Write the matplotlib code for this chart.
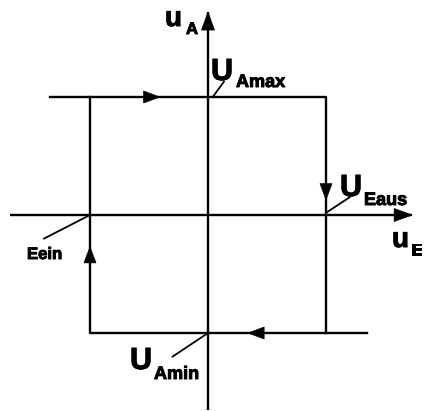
import matplotlib
matplotlib.use('Agg')
import matplotlib.pyplot as plt
import matplotlib.patheffects as pe
from matplotlib.patches import Polygon

# -- Schmitt trigger hysteresis, normalised so that thresholds and output levels are +-1
ue_ein, ue_aus = -1.0, 1.0          # switching thresholds
ua_min, ua_max = -1.0, 1.0          # output levels
ue_left, ue_right = -1.34, 1.35     # how far the output lines run out
ue_axis = [-1.68, 1.73]             # horizontal axis extent
ua_axis = [-1.65, 1.72]             # vertical axis extent

# -- direction arrows on the loop (tip position)
arrow_top_x = -0.41
arrow_right_y = 0.13
arrow_left_y = -0.27
arrow_bottom_x = 0.34

LW = 1.7
K = 'black'
S = 118.0   # pixels per unit


def px(x, y):
    # pixel position in the picture -> chart units
    return (x - 208) / S, (215 - y) / S


def head(ax, tip, direction, length, width):
    # filled triangular arrow head, lengths in pixels
    dx, dy = direction
    L, W = length / S, width / S / 2
    tx, ty = tip
    bx, by = tx - dx * L, ty - dy * L
    pts = [(tx, ty), (bx - dy * W, by + dx * W), (bx + dy * W, by - dx * W)]
    ax.add_patch(Polygon(pts, closed=True, fc=K, ec=K, lw=0.5, zorder=3))


fig = plt.figure(figsize=(4.24, 4.11), dpi=100)
ax = fig.add_axes([0, 0, 1, 1])
ax.set_xlim(-208 / S, 216 / S)
ax.set_ylim(-196 / S, 215 / S)
ax.axis('off')

# -- axes
ax.plot(ue_axis, [0, 0], color=K, lw=LW, solid_capstyle='butt')
ax.plot([0, 0], ua_axis, color=K, lw=LW, solid_capstyle='butt')
head(ax, (ue_axis[1], 0), (1, 0), 18, 13)
head(ax, (0, ua_axis[1]), (0, 1), 18, 13)

# -- hysteresis loop
ax.plot([ue_left, ue_aus, ue_aus], [ua_max, ua_max, ua_min], color=K, lw=LW)
ax.plot([ue_right, ue_ein, ue_ein], [ua_min, ua_min, ua_max], color=K, lw=LW)
head(ax, (arrow_top_x, ua_max), (1, 0), 16, 12)
head(ax, (ue_aus, arrow_right_y), (0, -1), 16, 12)
head(ax, (ue_ein, arrow_left_y), (0, 1), 16, 12)
head(ax, (arrow_bottom_x, ua_min), (-1, 0), 16, 12)

# -- leader lines
ax.plot([0.04, 0.135], [ua_max, ua_max + 0.13], color=K, lw=1.3)
ax.plot([ue_aus + 0.01, ue_aus + 0.2], [0.025, 0.15], color=K, lw=1.3)
ax.plot([ue_ein, ue_ein - 0.39], [0, -0.2], color=K, lw=1.3)
ax.plot([0, -0.3], [ua_min, ua_min - 0.2], color=K, lw=1.3)

# -- labels
bold = [pe.withStroke(linewidth=0.7, foreground=K)]
fp = dict(family='Liberation Sans', fontweight='bold', color=K, ha='left',
          va='baseline', path_effects=bold)
ax.text(*px(165, 26), 'u', fontsize=20, **fp)
ax.text(*px(186, 34), 'A', fontsize=12, **fp)
ax.text(*px(211, 80), 'U', fontsize=22, **fp)
ax.text(*px(236, 87), 'Amax', fontsize=13, **fp)
ax.text(*px(340, 196), 'U', fontsize=22, **fp)
ax.text(*px(364, 205), 'Eaus', fontsize=13, **fp)
ax.text(*px(392, 247), 'u', fontsize=20, **fp)
ax.text(*px(411, 255), 'E', fontsize=12, **fp)
ax.text(*px(27, 259), 'Eein', fontsize=12, **fp)
ax.text(*px(130, 369), 'U', fontsize=22, **fp)
ax.text(*px(154, 379), 'Amin', fontsize=13, **fp)

fig.savefig('out.png', dpi=100, facecolor='white')
